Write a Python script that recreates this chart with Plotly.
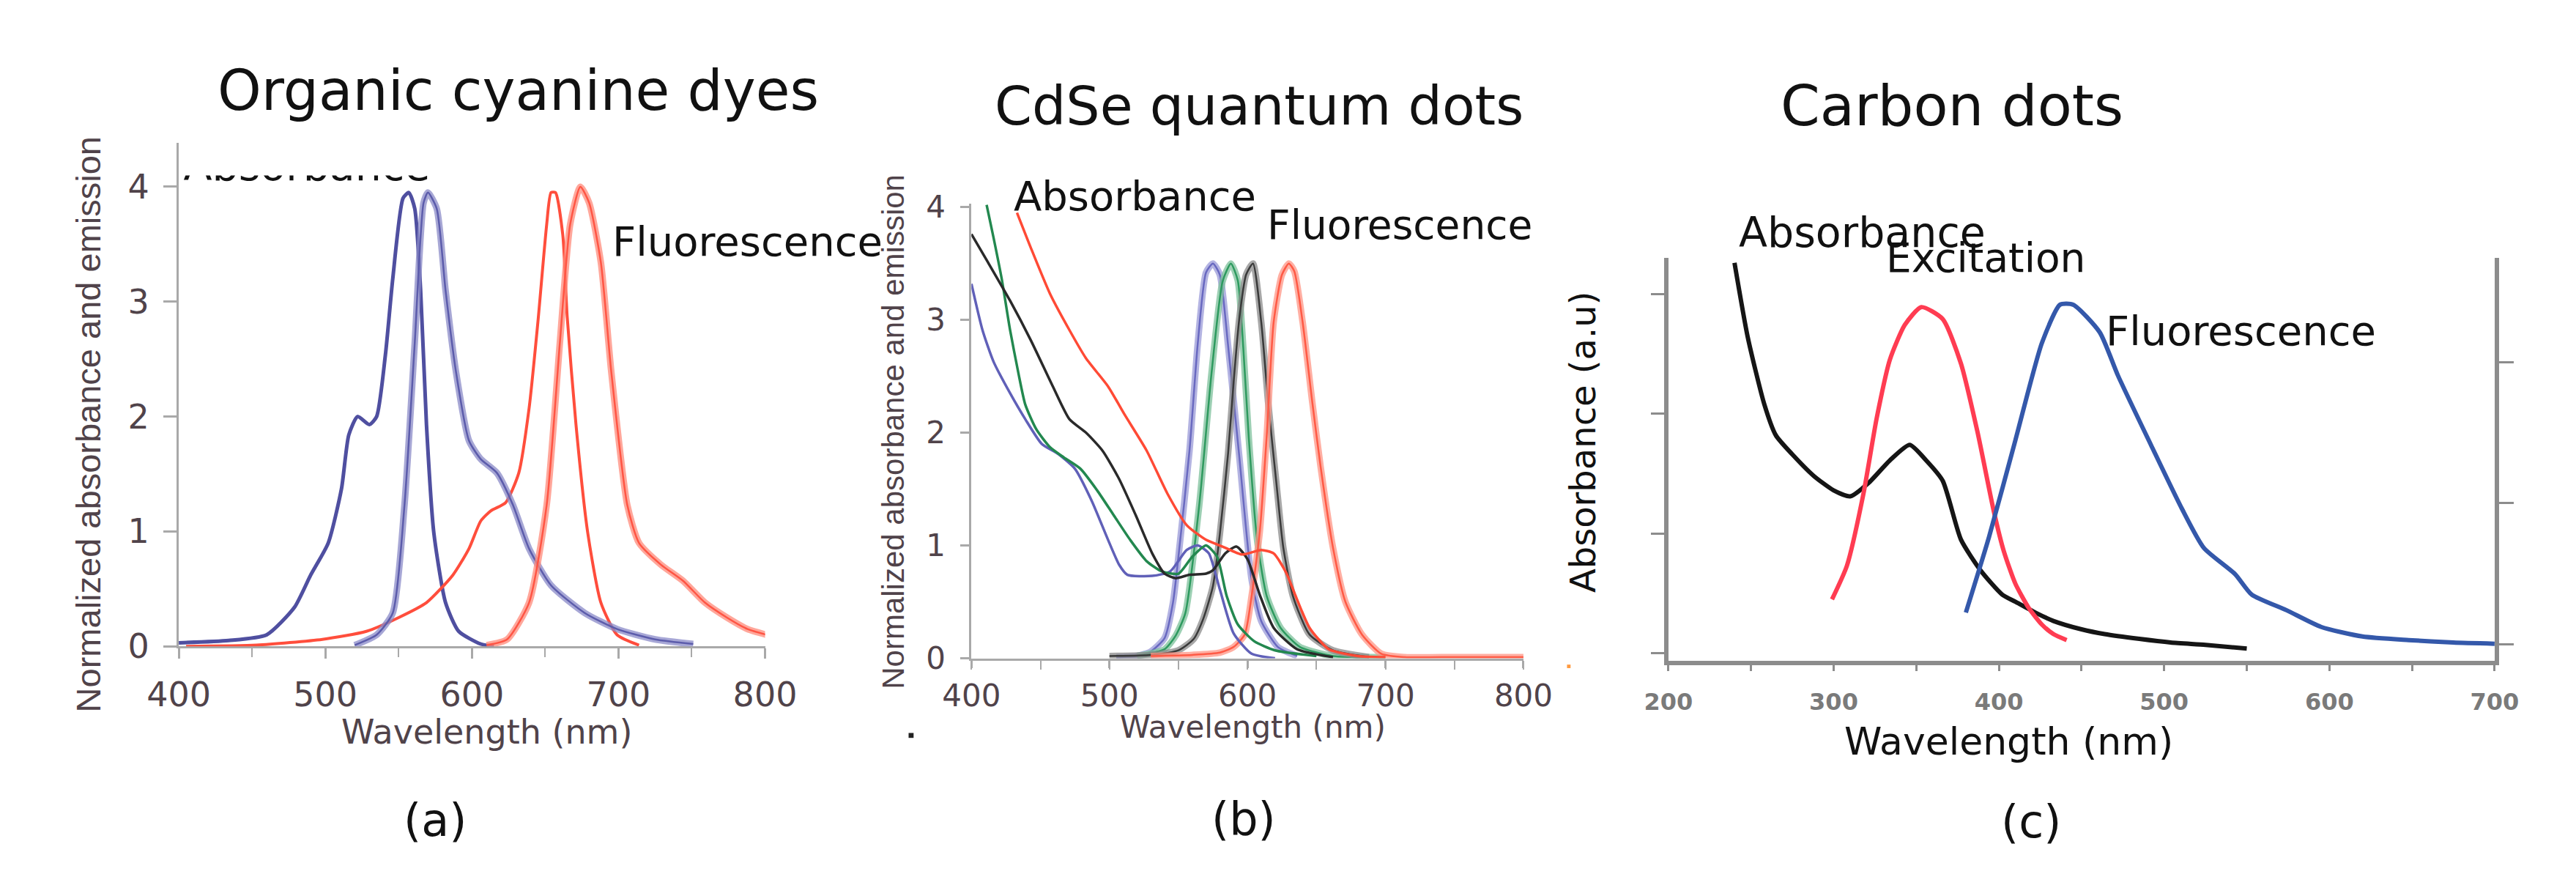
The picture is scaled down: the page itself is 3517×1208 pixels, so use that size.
import plotly.graph_objects as go

# ---------------- data ----------------
# Panel (a) organic cyanine dyes
a_blue_abs_x = [400, 434, 460, 479, 490, 502, 511, 516, 522, 530, 535, 541, 546, 553, 557, 561, 565, 569, 574, 582, 591, 606, 615]
a_blue_abs_y = [0.03, 0.05, 0.10, 0.34, 0.62, 0.90, 1.37, 1.84, 2.00, 1.93, 2.00, 2.54, 3.20, 3.90, 3.95, 3.81, 3.10, 1.93, 0.99, 0.38, 0.13, 0.02, 0.0]
a_blue_em_x = [520, 535, 546, 554, 561, 567, 570, 576, 582, 589, 598, 606, 617, 628, 639, 654, 677, 699, 725, 751]
a_blue_em_y = [0.01, 0.10, 0.29, 1.23, 2.64, 3.86, 3.95, 3.81, 3.10, 2.40, 1.79, 1.63, 1.51, 1.23, 0.85, 0.53, 0.29, 0.15, 0.06, 0.02]
a_red_abs_x = [405, 453, 498, 528, 550, 569, 587, 598, 606, 613, 623, 632, 639, 645, 651, 654, 657, 662, 665, 671, 679, 688, 699, 714]
a_red_abs_y = [0.0, 0.01, 0.06, 0.13, 0.25, 0.38, 0.62, 0.85, 1.09, 1.18, 1.25, 1.51, 2.07, 2.82, 3.67, 3.95, 3.95, 3.58, 2.87, 1.93, 0.99, 0.38, 0.10, 0.01]
a_red_em_x = [610, 624, 639, 651, 660, 667, 674, 680, 688, 695, 706, 714, 729, 744, 759, 774, 788, 801]
a_red_em_y = [0.01, 0.06, 0.38, 1.23, 2.64, 3.67, 4.00, 3.86, 3.34, 2.40, 1.23, 0.90, 0.71, 0.57, 0.38, 0.25, 0.15, 0.10]

# Panel (b) CdSe quantum dots
b_blue_abs_x = [400, 408, 416, 428, 439, 451, 463, 475, 487, 499, 507, 513, 531, 544, 556, 564, 572, 580, 590, 603, 620]
b_blue_abs_y = [3.32, 2.91, 2.63, 2.35, 2.12, 1.90, 1.81, 1.68, 1.40, 1.05, 0.83, 0.74, 0.73, 0.77, 0.96, 1.00, 0.93, 0.61, 0.22, 0.04, 0.0]
b_green_abs_x = [411, 416, 422, 428, 434, 439, 447, 457, 467, 479, 491, 503, 515, 527, 538, 550, 560, 570, 578, 585, 593, 605, 620, 650]
b_green_abs_y = [4.02, 3.73, 3.36, 2.91, 2.53, 2.25, 2.03, 1.87, 1.78, 1.68, 1.49, 1.27, 1.05, 0.86, 0.77, 0.75, 0.90, 1.00, 0.90, 0.55, 0.30, 0.15, 0.07, 0.02]
b_black_abs_x = [400, 412, 428, 443, 459, 471, 483, 495, 507, 519, 531, 540, 548, 558, 570, 575, 584, 592, 600, 609, 619, 636, 662]
b_black_abs_y = [3.76, 3.51, 3.17, 2.82, 2.41, 2.12, 2.00, 1.84, 1.59, 1.27, 0.93, 0.75, 0.71, 0.74, 0.75, 0.78, 0.93, 0.99, 0.88, 0.56, 0.27, 0.08, 0.01]
b_red_abs_x = [433, 443, 457, 471, 483, 499, 511, 527, 542, 556, 570, 582, 596, 610, 619, 628, 634, 645, 659, 680, 700]
b_red_abs_y = [3.95, 3.64, 3.23, 2.91, 2.66, 2.41, 2.16, 1.84, 1.46, 1.18, 1.05, 0.99, 0.92, 0.96, 0.93, 0.76, 0.58, 0.27, 0.08, 0.02, 0.01]

b_blue_em_x = [505, 520, 530, 540, 546, 550, 558, 564, 570, 575, 580, 586, 594, 603, 610, 622, 636]
b_blue_em_y = [0.01, 0.02, 0.06, 0.18, 0.49, 0.90, 1.84, 2.79, 3.42, 3.50, 3.40, 2.77, 1.80, 0.70, 0.33, 0.10, 0.02]
b_green_em_x = [520, 540, 548, 555, 565, 574, 582, 588, 593, 597, 601, 607, 614, 624, 638, 662, 700]
b_green_em_y = [0.02, 0.08, 0.20, 0.40, 1.35, 2.53, 3.34, 3.50, 3.35, 2.75, 1.95, 1.05, 0.55, 0.27, 0.10, 0.02, 0.01]
b_black_em_x = [500, 530, 550, 561, 568, 575, 580, 586, 590, 594, 599, 604, 610, 615, 621, 626, 633, 645, 662, 688]
b_black_em_y = [0.02, 0.03, 0.07, 0.17, 0.35, 0.64, 1.10, 1.82, 2.45, 3.00, 3.40, 3.50, 2.98, 2.27, 1.55, 0.98, 0.55, 0.21, 0.07, 0.01]
b_red_em_x = [530, 560, 580, 590, 598, 603, 609, 614, 619, 625, 630, 634, 640, 647, 653, 662, 671, 683, 697, 714, 750, 800]
b_red_em_y = [0.02, 0.03, 0.05, 0.10, 0.21, 0.55, 1.13, 1.98, 2.98, 3.40, 3.50, 3.43, 2.98, 2.27, 1.70, 0.98, 0.50, 0.21, 0.04, 0.01, 0.01, 0.01]

# Panel (c) carbon dots
c_abs_x = [240, 248, 258, 265, 275, 288, 300, 310, 321, 334, 346, 356, 366, 377, 389, 402, 410, 422, 433, 450, 464, 485, 504, 525, 550]
c_abs_y = [3.26, 2.64, 2.08, 1.82, 1.66, 1.48, 1.36, 1.31, 1.42, 1.61, 1.74, 1.61, 1.44, 0.95, 0.69, 0.49, 0.43, 0.34, 0.27, 0.20, 0.16, 0.12, 0.09, 0.07, 0.04]
c_exc_x = [299, 308, 318, 326, 334, 343, 353, 366, 377, 387, 397, 403, 410, 418, 426, 433, 441]
c_exc_y = [0.45, 0.73, 1.33, 1.96, 2.45, 2.74, 2.89, 2.79, 2.42, 1.85, 1.18, 0.85, 0.58, 0.38, 0.24, 0.16, 0.11]
c_fl_x = [380, 394, 410, 426, 437, 445, 461, 472, 492, 511, 524, 543, 553, 574, 595, 620, 648, 675, 700]
c_fl_y = [0.34, 0.97, 1.78, 2.59, 2.91, 2.91, 2.68, 2.32, 1.74, 1.20, 0.88, 0.66, 0.49, 0.36, 0.22, 0.14, 0.11, 0.09, 0.08]

ab_xticks = [400, 500, 600, 700, 800]
ab_yticks = [0, 1, 2, 3, 4]
c_xticks = [200, 300, 400, 500, 600, 700]
c_left_ticks = [0, 1, 2, 3]
c_right_ticks = [0, 1, 2]

# ---------------- layout helpers ----------------
W, H = 3517, 1208
def fx(p):
    return p / W
def fy(p):
    return 1 - p / H

FONT = "DejaVu Sans"
ARIAL = "Liberation Sans"
AXTXT = "#50434a"
AXLINE = "#a9a9a9"

fig = go.Figure()

def line(x, y, color, width, xa, ya, opacity=1.0):
    fig.add_trace(go.Scatter(x=x, y=y, mode="lines", xaxis=xa, yaxis=ya,
                             line=dict(color=color, width=width, shape="spline", smoothing=0.6),
                             opacity=opacity, hoverinfo="skip", showlegend=False))

def beaded(x, y, color, core, xa, ya):
    line(x, y, color, 9, xa, ya, opacity=0.75)
    line(x, y, core, 2.5, xa, ya)

# panel a
line(a_blue_abs_x, a_blue_abs_y, "#4f4fa0", 5, "x", "y")
line(a_red_abs_x, a_red_abs_y, "#ff4e3c", 4, "x", "y")
beaded(a_blue_em_x, a_blue_em_y, "#8a8ac8", "#5c5cab", "x", "y")
beaded(a_red_em_x, a_red_em_y, "#ff8a7a", "#ff5544", "x", "y")

# panel b
beaded(b_blue_em_x, b_blue_em_y, "#9a9ad8", "#6a6ac0", "x2", "y2")
beaded(b_green_em_x, b_green_em_y, "#7cc09a", "#2f9a5f", "x2", "y2")
beaded(b_black_em_x, b_black_em_y, "#8a8a8a", "#3a3a3a", "x2", "y2")
beaded(b_red_em_x, b_red_em_y, "#ff9585", "#ff5a45", "x2", "y2")
line(b_blue_abs_x, b_blue_abs_y, "#6060b8", 3.5, "x2", "y2")
line(b_green_abs_x, b_green_abs_y, "#23884f", 3.5, "x2", "y2")
line(b_black_abs_x, b_black_abs_y, "#2a2a2a", 3.5, "x2", "y2")
line(b_red_abs_x, b_red_abs_y, "#ff4a35", 3.5, "x2", "y2")

# panel c
line(c_abs_x, c_abs_y, "#151515", 6, "x3", "y3")
line(c_exc_x, c_exc_y, "#ff3c52", 6, "x3", "y3")
line(c_fl_x, c_fl_y, "#3458aa", 6, "x3", "y3")
# empty trace so that the right-hand axis of panel c is rendered
fig.add_trace(go.Scatter(x=[], y=[], xaxis="x3", yaxis="y4", mode="lines", hoverinfo="skip", showlegend=False))

# clipped "Absorbance" label at top of panel a (only its lower part is visible)
fig.add_trace(go.Scatter(x=[0.008], y=[1.012], mode="text", text=["Absorbance"], textposition="middle right",
                         textfont=dict(family=FONT, size=57, color="#111"), xaxis="x5", yaxis="y5",
                         cliponaxis=True, hoverinfo="skip", showlegend=False))

ab_common_x = dict(showline=True, linecolor=AXLINE, linewidth=3, ticks="outside", tickcolor=AXLINE,
                   tickwidth=3, showgrid=False, zeroline=False, layer="below traces",
                   tickvals=ab_xticks, range=[400, 800],
                   minor=dict(tickmode="linear", tick0=400, dtick=50, ticks="outside", ticklen=12,
                              tickcolor=AXLINE, tickwidth=2))
ab_common_y = dict(showline=True, linecolor=AXLINE, linewidth=3, ticks="outside", tickcolor=AXLINE,
                   tickwidth=3, showgrid=False, zeroline=False, layer="below traces", tickvals=ab_yticks)

c_line = "#8c8c8c"

fig.update_layout(
    width=W, height=H, margin=dict(l=0, r=0, t=0, b=0),
    paper_bgcolor="white", plot_bgcolor="rgba(0,0,0,0)", showlegend=False,
    xaxis=dict(domain=[fx(197), fx(1018)], anchor="y", ticklen=14, ticklabelstandoff=10,
               tickfont=dict(family=FONT, size=46, color=AXTXT), **ab_common_x),
    yaxis=dict(domain=[fy(889), fy(175)], anchor="x", range=[0, (889 - 175) / 163.0], ticklen=18,
               ticklabelstandoff=10, tickfont=dict(family=FONT, size=46, color=AXTXT), **ab_common_y),
    xaxis2=dict(domain=[fx(1307), fx(2080)], anchor="y2", ticklen=10, ticklabelstandoff=2,
                tickfont=dict(family=FONT, size=42, color=AXTXT), **ab_common_x),
    yaxis2=dict(domain=[fy(906), fy(261)], anchor="x2", range=[0, 4.03], ticklen=12,
                ticklabelstandoff=12, tickfont=dict(family=FONT, size=42, color=AXTXT), **ab_common_y),
    xaxis3=dict(domain=[fx(2283), fx(3440)], anchor="y3", range=[200, 700], showline=True,
                linecolor=c_line, linewidth=6, ticks="outside", ticklen=8, tickwidth=3, tickcolor=c_line,
                tickvals=c_xticks, ticklabelstandoff=14, showgrid=False, zeroline=False,
                tickfont=dict(family="DejaVu Sans", size=32, color="#7a7a7a", weight="bold"),
                minor=dict(tickmode="linear", tick0=200, dtick=50, ticks="outside", ticklen=8,
                           tickcolor=c_line, tickwidth=3), layer="below traces"),
    yaxis3=dict(domain=[fy(910), fy(338)], anchor="x3", range=[-0.065, 3.3], showline=True,
                linecolor=c_line, linewidth=6, ticks="outside", ticklen=18, tickwidth=3, tickcolor=c_line,
                tickvals=c_left_ticks, showticklabels=False, showgrid=False, zeroline=False,
                layer="below traces"),
    yaxis4=dict(domain=[fy(910), fy(338)], anchor="x3", overlaying="y3", side="right",
                range=[-0.12, 2.74], showline=True, linecolor=c_line, linewidth=6, ticks="outside",
                ticklen=20, tickwidth=3, tickcolor=c_line, tickvals=c_right_ticks, showticklabels=False,
                showgrid=False, zeroline=False),
    xaxis5=dict(domain=[fx(197), fx(1018)], anchor="y5", range=[0, 1], visible=False),
    yaxis5=dict(domain=[fy(889), fy(221)], anchor="x5", range=[0, 1], visible=False),
)

def ann(text, x, y, size, color="#111", angle=0, xanchor="center", family=FONT, weight="normal"):
    fig.add_annotation(text=text, x=fx(x), y=fy(y), xref="paper", yref="paper", showarrow=False,
                       xanchor=xanchor, yanchor="middle", textangle=angle,
                       font=dict(family=family, size=size, color=color, weight=weight))

# titles
ann("Organic cyanine dyes", 672, 100, 76)
ann("CdSe quantum dots", 1710, 122, 73)
ann("Carbon dots", 2680, 122, 77)
# panel labels
ann("(a)", 556, 1136, 62)
ann("(b)", 1688, 1134, 62)
ann("(c)", 2791, 1138, 62)
# curve labels
ann("Fluorescence", 802, 314, 56, xanchor="left")
ann("Absorbance", 1364, 250, 56, xanchor="left")
ann("Fluorescence", 1719, 291, 55, xanchor="left")
ann("Absorbance", 2380, 301, 57, xanchor="left")
ann("Excitation", 2586, 338, 55, xanchor="left")
ann("Fluorescence", 2893, 441, 56, xanchor="left")
# axis titles
ann("Normalized absorbance and emission", 70, 574, 47, color=AXTXT, angle=-90, family=ARIAL)
ann("Wavelength (nm)", 628, 1010, 46, color=AXTXT)
ann("Normalized absorbance and emission", 1198, 585, 42, color=AXTXT, angle=-90, family=ARIAL)
ann("Wavelength (nm)", 1701, 1004, 42, color=AXTXT)
ann("Absorbance (a.u)", 2163, 599, 48, angle=-90)
ann("Wavelength (nm)", 2760, 1024, 52)

# small stray marks in the reference
fig.add_shape(type="rect", xref="paper", yref="paper", x0=fx(1219), x1=fx(1226), y0=fy(1019), y1=fy(1012),
              fillcolor="#222", line=dict(width=0))
fig.add_shape(type="rect", xref="paper", yref="paper", x0=fx(2141), x1=fx(2146), y0=fy(920), y1=fy(915),
              fillcolor="#ff9a40", line=dict(width=0))

fig.write_html("out.html")
